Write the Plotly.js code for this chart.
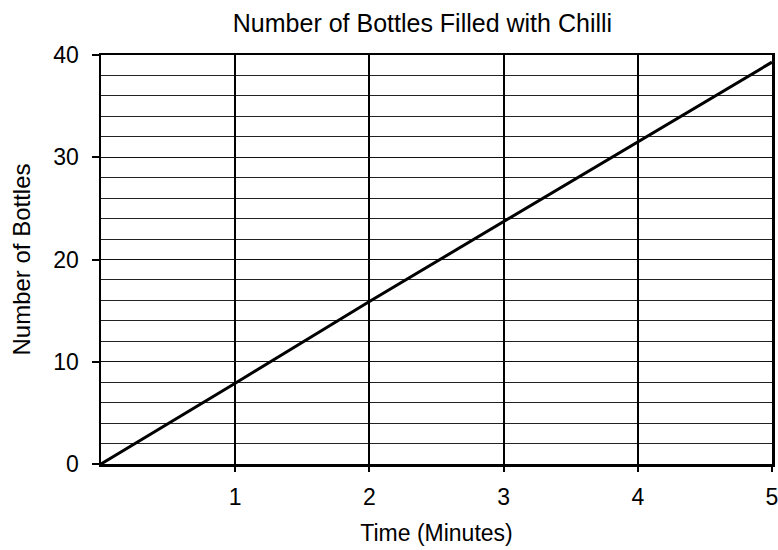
<!DOCTYPE html>
<html>
<head>
<meta charset="utf-8">
<script src="https://cdn.plot.ly/plotly-3.0.1.min.js"></script>
<style>html,body{margin:0;padding:0;background:#fff;}#chart{width:778px;height:550px;}</style>
</head>
<body>
<div id="chart"></div>
<script>
const minutes = [0, 1, 2, 3, 4, 5];
const bottles = [0, 7.9, 15.9, 23.7, 31.5, 39.3];
const xTicks = [1, 2, 3, 4, 5];
const xTickLabels = ['1', '2', '3', '4', '5'];
const yTicks = [0, 10, 20, 30, 40];

const font = 'Liberation Sans, Arial, sans-serif';

Plotly.newPlot('chart', [{
  x: minutes,
  y: bottles,
  type: 'scatter',
  mode: 'lines',
  line: {color: '#000', width: 3},
  hoverinfo: 'skip'
}], {
  width: 778,
  height: 550,
  margin: {l: 101, r: 6, t: 55, b: 86},
  paper_bgcolor: '#fff',
  plot_bgcolor: '#fff',
  showlegend: false,
  title: {text: 'Number of Bottles Filled with Chilli', font: {family: font, size: 25, color: '#000'}, x: 0.543, xanchor: 'center', y: 0.958, yanchor: 'middle'},
  xaxis: {
    range: [0, 5],
    tickvals: xTicks,
    ticktext: xTickLabels,
    ticklabeloverflow: 'allow',
    ticks: 'outside', ticklen: 5, tickwidth: 2, tickcolor: '#000',
    ticklabelstandoff: 6,
    showline: true, linewidth: 2.5, linecolor: '#000', mirror: true,
    showgrid: true, gridcolor: '#000', gridwidth: 2,
    zeroline: false,
    tickfont: {family: font, size: 23, color: '#000'},
    title: {text: 'Time (Minutes)', font: {family: font, size: 23, color: '#000'}, standoff: 16}
  },
  yaxis: {
    range: [0, 40],
    tickvals: yTicks,
    ticks: 'outside', ticklen: 7, tickwidth: 2, tickcolor: '#000',
    ticklabelstandoff: 8,
    showline: true, linewidth: 2.5, linecolor: '#000', mirror: true,
    showgrid: true, gridcolor: '#111', gridwidth: 1.3,
    minor: {dtick: 2, showgrid: true, gridcolor: '#222', gridwidth: 1},
    zeroline: false,
    tickfont: {family: font, size: 23, color: '#000'},
    title: {text: 'Number of Bottles', font: {family: font, size: 24, color: '#000'}, standoff: 16}
  }
}, {staticPlot: true});
</script>
</body>
</html>
